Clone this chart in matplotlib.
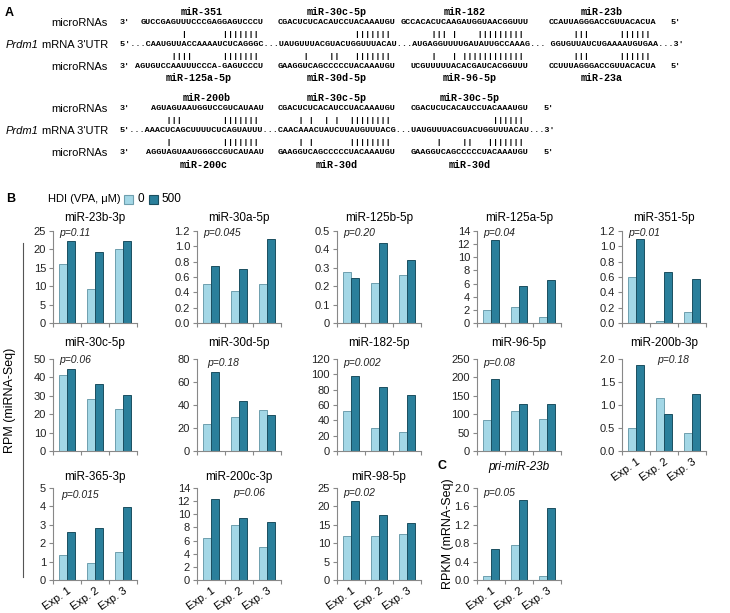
"""Panel figure: Prdm1 3'UTR miRNA sites and miRNA-Seq bar charts."""
import numpy as np
import matplotlib
matplotlib.use("Agg")
import matplotlib.pyplot as plt
from matplotlib.patches import Rectangle
from matplotlib.lines import Line2D

plt.rcParams['font.family'] = ['Liberation Sans', 'DejaVu Sans']

W, H = 730, 613

# ---------------- panel A data ----------------
row1_top_names = ["miR-351", "miR-30c-5p", "miR-182", "miR-23b"]
row1_top_seqs = ["GUCCGAGUUUCCCGAGGAGUCCCU", "CGACUCUCACAUCCUACAAAUGU",
                 "GCCACACUCAAGAUGGUAACGGUUU", "CCAUUAGGGACCGUUACACUA"]
row1_utr_segs = ["CAAUGUUACCAAAAUCUCAGGGC", "UAUGUUUACGUACUGGUUUACAU",
                 "AUGAGGUUUUGAUAUUGCCAAAG", "GGUGUUAUCUGAAAAUGUGAA"]
row1_utr_gaps = ["5'...", "...", "...", "... ", "...3'"]
row1_bot_seqs = ["AGUGUCCAAUUUCCCA-GAGUCCCU", "GAAGGUCAGCCCCCUACAAAUGU",
                 "UCGUUUUUACACGAUCACGGUUU", "CCUUUAGGGACCGUUACACUA"]
row1_bot_names = ["miR-125a-5p", "miR-30d-5p", "miR-96-5p", "miR-23a"]
row1_top_pairs = ["       |       ||||||| ", "               ||||||| ",
                  "    ||| |    ||||||||| ", "     |||      ||||||  "]
row1_bot_pairs = ["     ||||      ||||||| ", "     |    ||   ||||||| ",
                  "    |   | |||||||||||| ", "     |||      ||||||  "]

row2_top_names = ["miR-200b", "miR-30c-5p", "miR-30c-5p"]
row2_top_seqs = ["AGUAGUAAUGGUCCGUCAUAAU", "CGACUCUCACAUCCUACAAAUGU",
                 "CGACUCUCACAUCCUACAAAUGU"]
row2_utr_segs = ["AAACUCAGCUUUUCUCAGUAUUU", "CAACAAACUAUCUUAUGUUUACG",
                 "UAUGUUUACGUACUGGUUUACAU"]
row2_utr_gaps = ["5'...", "...", "...", "...3'"]
row2_bot_seqs = ["AGGUAGUAAUGGGCCGUCAUAAU", "GAAGGUCAGCCCCCUACAAAUGU",
                 "GAAGGUCAGCCCCCUACAAAUGU"]
row2_bot_names = ["miR-200c", "miR-30d", "miR-30d"]
row2_top_pairs = ["    |||        ||||||| ", "    | |  | |  |||||||| ",
                  "                |||||| "]
row2_bot_pairs = ["    |          ||||||| ", "    | |       |||||||| ",
                  "     |    ||   ||||||| "]

# ---------------- panel B / C data ----------------
experiments = ["Exp. 1", "Exp. 2", "Exp. 3"]
mirs = ["miR-23b-3p", "miR-30a-5p", "miR-125b-5p", "miR-125a-5p", "miR-351-5p",
        "miR-30c-5p", "miR-30d-5p", "miR-182-5p", "miR-96-5p", "miR-200b-3p",
        "miR-365-3p", "miR-200c-3p", "miR-98-5p"]
vpa0 = [[16.0, 9.2, 20.0], [0.51, 0.42, 0.51], [0.277, 0.217, 0.26],
        [2.0, 2.4, 0.9], [0.60, 0.03, 0.15],
        [41.5, 28.5, 23.0], [23.5, 29.5, 35.5], [52, 30, 25],
        [85, 110, 88], [0.50, 1.15, 0.40],
        [1.35, 0.95, 1.52], [6.4, 8.4, 5.0], [12.0, 12.0, 12.6]]
vpa500 = [[22.2, 19.4, 22.3], [0.75, 0.70, 1.10], [0.245, 0.435, 0.34],
          [12.6, 5.7, 6.6], [1.10, 0.66, 0.58],
          [44.5, 36.5, 30.5], [69, 43.5, 31], [98, 84, 72.5],
          [195, 127, 128], [1.87, 0.80, 1.25],
          [2.60, 2.82, 3.95], [12.3, 9.4, 8.9], [21.4, 17.7, 15.5]]
pvals = ["0.11", "0.045", "0.20", "0.04", "0.01",
         "0.06", "0.18", "0.002", "0.08", "0.18",
         "0.015", "0.06", "0.02"]
ymax = [25, 1.2, 0.5, 14, 1.2, 50, 80, 120, 250, 2.0, 5, 14, 25]
ystep = [5, 0.2, 0.1, 2, 0.2, 10, 20, 20, 50, 0.5, 1, 2, 5]
yfmt = ['{:g}', '{:.1f}', '{:g}', '{:g}', '{:.1f}',
        '{:g}', '{:g}', '{:g}', '{:g}', '{:.1f}',
        '{:g}', '{:g}', '{:g}']

pri_name = "pri-miR-23b"
pri_vpa0 = [0.08, 0.76, 0.08]
pri_vpa500 = [0.68, 1.73, 1.56]
pri_p = "0.05"

# layout (pixels)
col_left = [53, 197, 337, 477, 622]
row_top = [231, 359, 488]
ax_w, ax_h = 84, 92
title_off = [13, 16, 11]
p_pos = [(0.08, 0.98), (0.08, 0.98), (0.08, 0.98), (0.08, 0.98), (0.08, 0.98),
         (0.08, 0.99), (0.12, 0.955), (0.08, 0.955), (0.08, 0.955), (0.42, 0.99),
         (0.10, 0.92), (0.43, 0.945), (0.08, 0.945)]

c_light, e_light = '#a3d7e6', '#6e9fae'
c_dark, e_dark = '#2a7f9b', '#1b4f60'

fig = plt.figure(figsize=(W / 100, H / 100), dpi=100)
renderer = fig.canvas.get_renderer()


def fx(x):
    return x / W


def fy(y):
    return 1 - y / H


# ---------------- panel A ----------------
mono = dict(family='Liberation Mono', weight='bold')
x0 = 120
cw = 5.1
seq_fs = cw / 0.6 * 72 / 100
name_fs = 7.2


def seq_row(ys, top_names, top_seqs, top_pairs, gaps, utr_segs,
            bot_pairs, bot_seqs, bot_names):
    y_nt, y_st, y_pt, y_u, y_pb, y_sb, y_nb = ys
    utr_line = gaps[0]
    starts = []
    for seg, gap in zip(utr_segs, gaps[1:]):
        starts.append(len(utr_line))
        utr_line += seg + gap
    fig.text(fx(x0), fy(y_u), utr_line, fontsize=seq_fs, va='center', **mono)
    end_col = len(utr_line) - 2
    for y in (y_st, y_sb):
        fig.text(fx(x0), fy(y), "3'", fontsize=seq_fs, va='center', **mono)
        fig.text(fx(x0 + end_col * cw), fy(y), "5'", fontsize=seq_fs,
                 va='center', **mono)
    for i, seg in enumerate(utr_segs):
        c = starts[i]
        for seq, name, yseq, ynm in ((top_seqs[i], top_names[i], y_st, y_nt),
                                     (bot_seqs[i], bot_names[i], y_sb, y_nb)):
            cs = c + len(seg) - len(seq)
            fig.text(fx(x0 + cs * cw), fy(yseq), seq, fontsize=seq_fs,
                     va='center', **mono)
            fig.text(fx(x0 + (cs + len(seq) / 2) * cw), fy(ynm), name,
                     fontsize=name_fs, ha='center', va='center', **mono)
        fig.text(fx(x0 + c * cw), fy(y_pt), top_pairs[i], fontsize=seq_fs,
                 va='center', **mono)
        fig.text(fx(x0 + c * cw), fy(y_pb), bot_pairs[i], fontsize=seq_fs,
                 va='center', **mono)
    for y in (y_st, y_sb):
        fig.text(fx(108), fy(y), "microRNAs", fontsize=8, ha='right', va='center')
    t = fig.text(fx(108), fy(y_u), "mRNA 3'UTR", fontsize=8, ha='right',
                 va='center')
    left_px = t.get_window_extent(renderer).x0
    fig.text((left_px - 3) / W, fy(y_u), "Prdm1", fontsize=8, style='italic',
             ha='right', va='center')


fig.text(fx(5), fy(13), "A", fontsize=9, weight='bold', va='center')
seq_row([12, 23, 34, 45, 56, 67, 78], row1_top_names, row1_top_seqs,
        row1_top_pairs, row1_utr_gaps, row1_utr_segs, row1_bot_pairs,
        row1_bot_seqs, row1_bot_names)
seq_row([98, 109, 120, 131, 142, 153, 165], row2_top_names, row2_top_seqs,
        row2_top_pairs, row2_utr_gaps, row2_utr_segs, row2_bot_pairs,
        row2_bot_seqs, row2_bot_names)

# ---------------- panels B, C ----------------
fig.text(fx(6), fy(199), "B", fontsize=9, weight='bold', va='center')
fig.text(fx(48), fy(199), "HDI (VPA, \u03bcM)", fontsize=8, va='center')
fig.add_artist(Rectangle((fx(124), fy(204)), 9 / W, 9 / H, facecolor=c_light,
                         edgecolor=e_light, lw=0.8))
fig.text(fx(137), fy(199), "0", fontsize=8.5, va='center')
fig.add_artist(Rectangle((fx(149), fy(204)), 9 / W, 9 / H, facecolor=c_dark,
                         edgecolor=e_dark, lw=0.8))
fig.text(fx(161), fy(199), "500", fontsize=8.5, va='center')
fig.add_artist(Line2D([fx(23), fx(23)], [fy(243), fy(577)], color='#555', lw=0.8))
fig.text(fx(10), fy(400), "RPM (miRNA-Seq)", fontsize=9, rotation=90,
         ha='center', va='center')


def bar_panel(left, top, v0, v1, top_val, step, fmt, ptxt, pxy, show_x):
    ax = fig.add_axes([fx(left), fy(top + ax_h), ax_w / W, ax_h / H])
    x = np.arange(len(experiments))
    ax.bar(x - 0.15, v0, 0.3, color=c_light, edgecolor=e_light, lw=0.7)
    ax.bar(x + 0.15, v1, 0.3, color=c_dark, edgecolor=e_dark, lw=0.7)
    ax.set_xlim(-0.5, 2.5)
    ax.set_ylim(0, top_val)
    ticks = np.arange(0, top_val + step / 2, step)
    ax.set_yticks(ticks)
    ax.set_yticklabels([fmt.format(round(t, 3)) for t in ticks])
    ax.set_xticks([-0.5, 0.5, 1.5, 2.5])
    ax.set_xticklabels([])
    ax.set_xticks(x, minor=True)
    if show_x:
        ax.set_xticklabels(experiments, minor=True, rotation=35, ha='right',
                           rotation_mode='anchor', fontsize=8)
    ax.tick_params(which='minor', length=0, pad=4)
    ax.tick_params(which='major', length=3, color='#888', width=0.8,
                   labelsize=8, pad=2, labelcolor='#222')
    for s in ('top', 'right'):
        ax.spines[s].set_visible(False)
    for s in ('left', 'bottom'):
        ax.spines[s].set_color('#888')
        ax.spines[s].set_linewidth(0.8)
    ax.text(pxy[0], pxy[1], "p=" + ptxt, transform=ax.transAxes, fontsize=7.5,
            style='italic', va='center', color='#222')
    return ax


for i, name in enumerate(mirs):
    r, c = divmod(i, 5)
    show_x = r == 2 or (r == 1 and c == 4)
    ax = bar_panel(col_left[c], row_top[r], vpa0[i], vpa500[i], ymax[i],
                   ystep[i], yfmt[i], pvals[i], p_pos[i], show_x)
    ax.text(0.5, 1 + title_off[r] / ax_h, name, transform=ax.transAxes,
            ha='center', va='center', fontsize=8.5)

axc = bar_panel(col_left[3], row_top[2], pri_vpa0, pri_vpa500, 2.0, 0.4,
                '{:.1f}', pri_p, (0.07, 0.95), True)
axc.text(0.5, 1 + 21 / ax_h, pri_name, transform=axc.transAxes, ha='center',
         va='center', fontsize=8.5, style='italic')
fig.text(fx(438), fy(466), "C", fontsize=9, weight='bold', va='center')
fig.text(fx(448), fy(534), "RPKM (mRNA-Seq)", fontsize=9, rotation=90,
         ha='center', va='center')

fig.savefig("out.png", dpi=100)
